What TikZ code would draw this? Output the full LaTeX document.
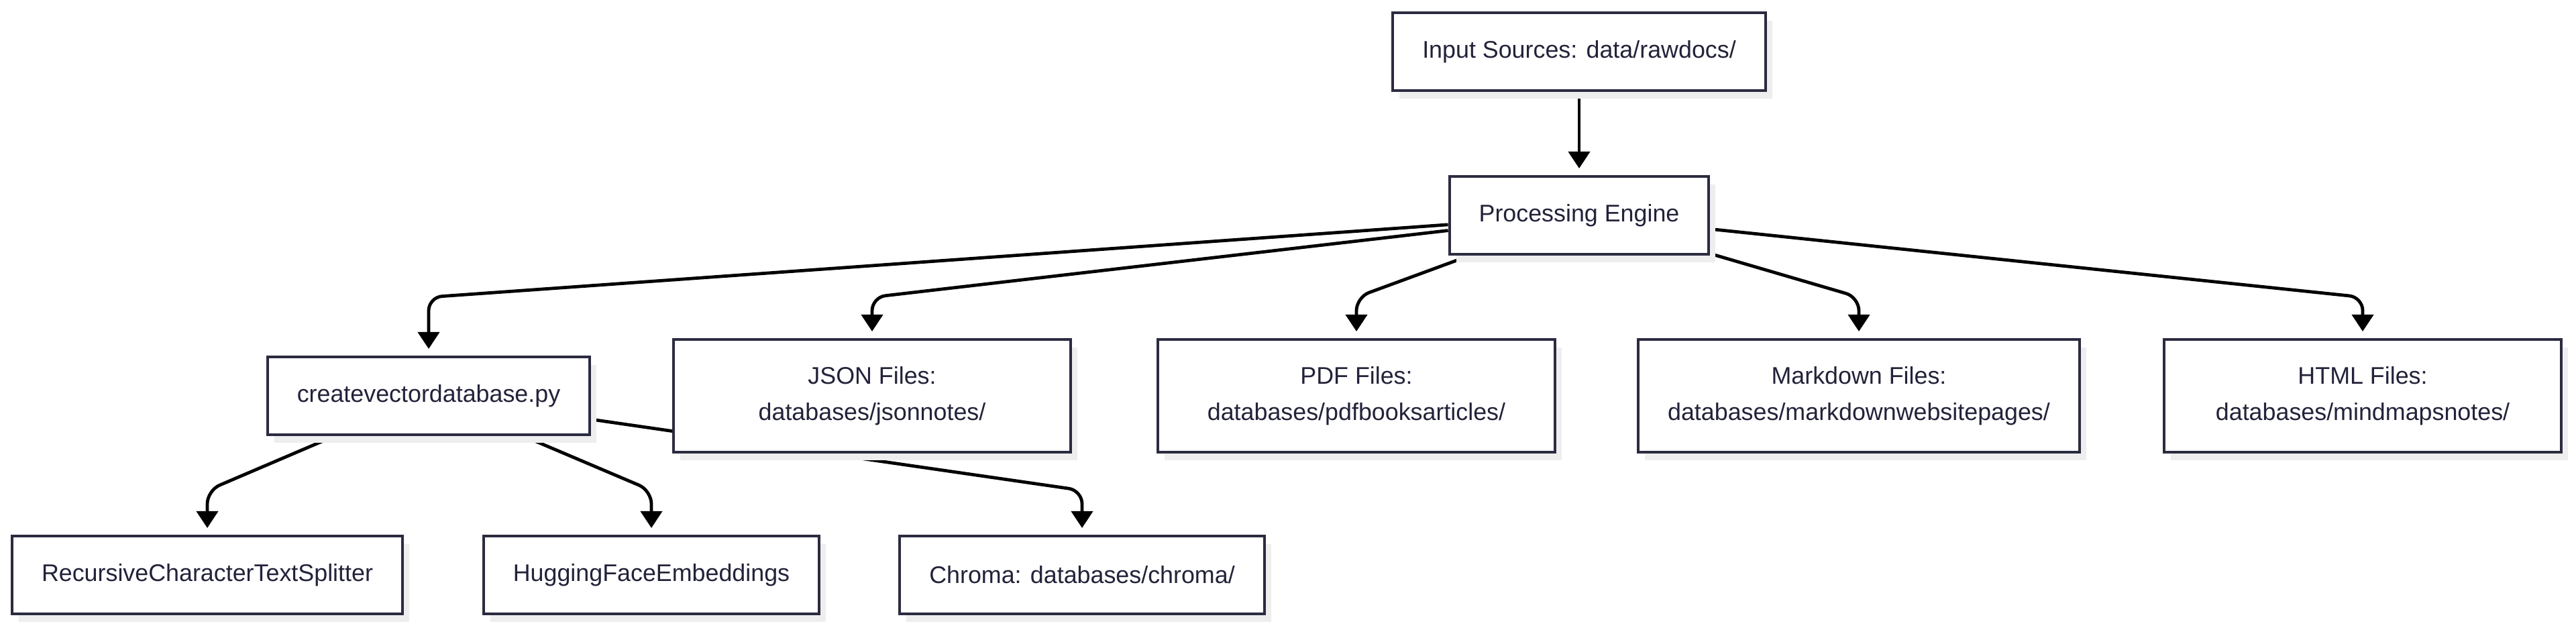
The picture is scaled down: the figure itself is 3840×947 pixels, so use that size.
\documentclass[tikz,border=0pt]{standalone}
\usepackage{fontspec}
\setmainfont{Liberation Sans}
\usepackage{tikz}
\usetikzlibrary{
    arrows.meta,
    positioning,
    shadows,
    backgrounds
}
\definecolor{nodeline}{HTML}{2B2B40}
\definecolor{nodetext}{HTML}{22223A}
\definecolor{shadowgray}{HTML}{EEEEEE}
\tikzstyle{box} = [
    rectangle,
    draw=nodeline,
    line width=1pt,
    fill=white,
    text=nodetext,
    inner xsep=11pt,
    inner ysep=0pt,
    minimum height=29pt,
    align=center,
    font=\fontsize{8.96pt}{13.44pt}\selectfont,
    drop shadow={shadow xshift=2.5pt, shadow yshift=-3pt, fill=shadowgray, opacity=1}
]
\tikzstyle{tallbox} = [
    box,
    minimum height=42pt,
    minimum width=148pt
]
\tikzstyle{edge} = [
    -{Triangle[length=6.3pt, width=8pt]},
    line width=1.2pt,
    draw=black,
    rounded corners=5pt,
    shorten >=2.5pt
]
\begin{document}
\begin{tikzpicture}[x=0.25pt, y=-0.25pt]
    \useasboundingbox (0,0) rectangle (3840,947);

    % Source and engine
    \node[box] (inp) at (2354,77) {Input Sources: data/rawdocs/};
    \node[box] (pe) at (2354,321) {Processing Engine};

    % Engine outputs
    \node[box] (cvd) at (639,590) {createvectordatabase.py};
    \node[tallbox] (json) at (1300,590) {JSON Files:\\databases/jsonnotes/};
    \node[tallbox] (pdf) at (2022,590) {PDF Files:\\databases/pdfbooksarticles/};
    \node[tallbox] (md) at (2771,590) {Markdown Files:\\databases/markdownwebsitepages/};
    \node[tallbox] (html) at (3522,590) {HTML Files:\\databases/mindmapsnotes/};

    % Vector database parts
    \node[box] (rec) at (309,857) {RecursiveCharacterTextSplitter};
    \node[box] (hf) at (971,857) {HuggingFaceEmbeddings};
    \node[box] (chroma) at (1613,857) {Chroma: databases/chroma/};

    % Bend heights
    \coordinate (bendA) at (0,443);
    \coordinate (bendB) at (0,731);

    % Arrows
    \begin{scope}[on background layer]
        \draw[edge] (inp) -- (pe);
        \draw[edge] (pe) -- (cvd.north |- bendA) -- (cvd);
        \draw[edge] (pe) -- (json.north |- bendA) -- (json);
        \draw[edge] (pe) -- (pdf.north |- bendA) -- (pdf);
        \draw[edge] (pe) -- (md.north |- bendA) -- (md);
        \draw[edge] (pe) -- (html.north |- bendA) -- (html);
        \draw[edge] (cvd) -- (rec.north |- bendB) -- (rec);
        \draw[edge] (cvd) -- (hf.north |- bendB) -- (hf);
        \draw[edge] (cvd) -- (chroma.north |- bendB) -- (chroma);
    \end{scope}
\end{tikzpicture}
\end{document}
